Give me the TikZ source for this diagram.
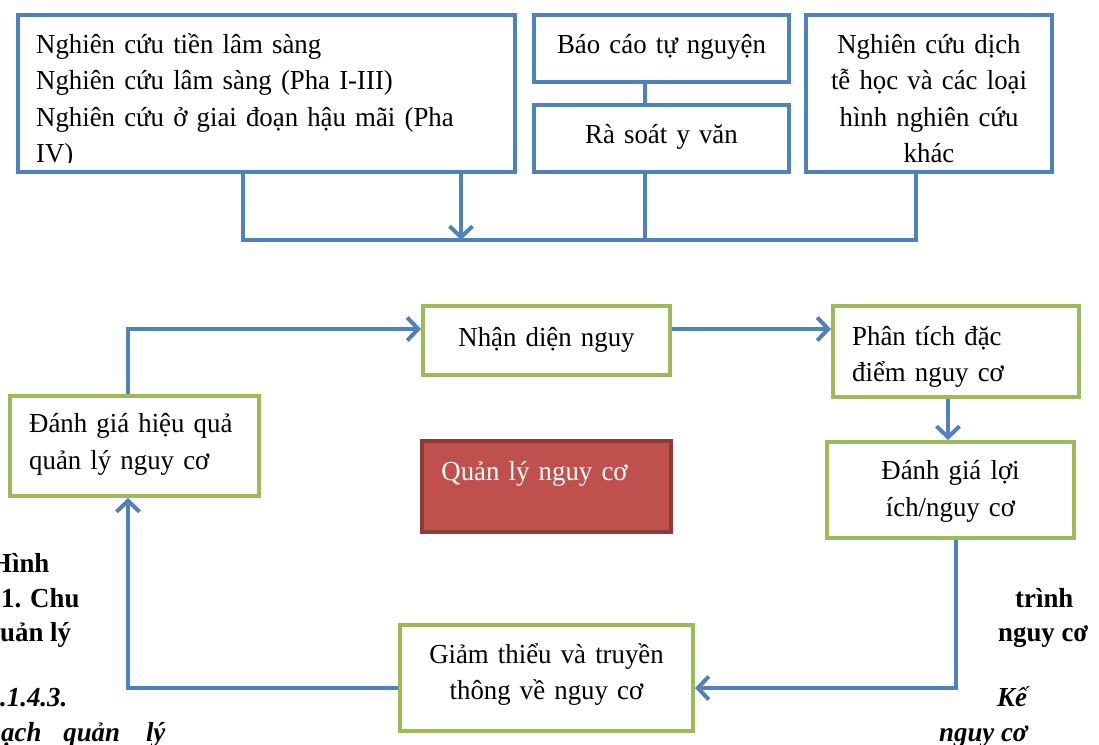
\documentclass[tikz,border=0pt]{standalone}
\usepackage{fontspec}
\setmainfont{Liberation Serif}[FakeStretch=0.975]
\usetikzlibrary{arrows.meta,calc}
\definecolor{myblue}{HTML}{4F81BD}
\definecolor{mygreen}{HTML}{9BBB59}
\definecolor{myred}{HTML}{C0504D}
\definecolor{mydarkred}{HTML}{8E3B38}
\tikzset{
  bluebox/.style={draw=myblue, line width=4pt, fill=white, inner sep=0pt},
  greenbox/.style={draw=mygreen, line width=4pt, fill=white, inner sep=0pt},
  redbox/.style={draw=mydarkred, line width=3.5pt, fill=myred, inner sep=0pt},
  txt/.style={inner sep=0pt, font=\fontsize{27.5}{36.5}\selectfont, text width=300pt},
  ctxt/.style={txt, align=center, anchor=base},
  ltxt/.style={txt, align=left, anchor=base west},
  conn/.style={draw=myblue, line width=4pt},
  arr/.style={-{Straight Barb[length=11pt,width=23pt]}},
  outb/.style={inner sep=0pt, anchor=base west, font=\fontsize{27.5}{36.5}\selectfont\bfseries},
  outi/.style={inner sep=0pt, anchor=base west, font=\fontsize{27.5}{36.5}\selectfont\bfseries\itshape},
}
\begin{document}
\begin{tikzpicture}[x=1pt,y=-1pt]
\useasboundingbox[fill=white] (0,0) rectangle (1099,744);

% top row
\node[bluebox, minimum width=497pt, minimum height=157pt] (A) at (266.5,93.5) {};
\node[bluebox, minimum width=255pt, minimum height=67pt] (B) at (661.5,48.5) {};
\node[bluebox, minimum width=255pt, minimum height=67pt] (C) at (661.5,138.5) {};
\node[bluebox, minimum width=246pt, minimum height=157pt] (D) at (929,93.5) {};

\begin{scope}
\clip ($(A.north west)+(2,2)$) rectangle ($(A.south east)+(-2,-12)$);
\node[ltxt, text width=480pt] (At) at ($(A.north west)+(20,40)$) {Nghiên cứu tiền lâm sàng\\Nghiên cứu lâm sàng (Pha I-III)\\Nghiên cứu ở giai đoạn hậu mãi (Pha\\IV)};
\end{scope}
\node[ctxt] (Bt) at ($(B.north)+(0,40)$) {Báo cáo tự nguyện};
\node[ctxt] (Ct) at ($(C.north)+(0,40)$) {Rà soát y văn};
\node[ctxt] (Dt) at ($(D.north)+(0,40)$) {Nghiên cứu dịch\\tễ học và các loại\\hình nghiên cứu\\khác};

\draw[conn] ($(B.south west)+(113,0)$) -- ($(C.north west)+(113,0)$);
\draw[conn] ($(A.south west)+(227,0)$) -- ++(0,66) -| ($(D.south west)+(112,0)$);
\draw[conn] ($(C.south west)+(113,0)$) -- ++(0,66);
\draw[conn,arr] ($(A.south west)+(445,0)$) -- ++(0,66);

% lower cycle
\node[greenbox, minimum width=247pt, minimum height=69pt] (N) at (546.5,340.5) {};
\node[greenbox, minimum width=246pt, minimum height=91pt] (P) at (956,351.5) {};
\node[greenbox, minimum width=247pt, minimum height=96pt] (L) at (950.5,490) {};
\node[greenbox, minimum width=249pt, minimum height=100pt] (H) at (134.5,446) {};
\node[redbox, minimum width=249pt, minimum height=91pt] (Q) at (546.5,486.5) {};
\node[greenbox, minimum width=293pt, minimum height=106pt] (G) at (546.5,678) {};

\node[ctxt] (Nt) at ($(N.north)+(0,42)$) {Nhận diện nguy};
\node[ltxt] (Pt) at ($(P.north west)+(21,41)$) {Phân tích đặc\\điểm nguy cơ};
\node[ctxt] (Lt) at ($(L.north)+(0,39.5)$) {Đánh giá lợi\\ích/nguy cơ};
\node[ltxt] (Ht) at ($(H.north west)+(21,38.5)$) {Đánh giá hiệu quả\\quản lý nguy cơ};
\node[ltxt, text=white] (Qt) at ($(Q.north west)+(21,41)$) {Quản lý nguy cơ};
\node[ctxt] (Gt) at ($(G.north)+(0,40)$) {Giảm thiểu và truyền\\thông về nguy cơ};

\draw[conn,arr] ($(H.north west)+(120,0)$) |- ($(N.west)+(0,-11.5)$);
\draw[conn,arr] ($(N.east)+(0,-11.5)$) -- ($(P.west)+(0,-22.5)$);
\draw[conn,arr] ($(P.south west)+(117,0)$) -- ($(L.north west)+(123,0)$);
\draw[conn,arr] ($(L.south west)+(131,0)$) |- ($(G.east)+(0,10)$);
\draw[conn,arr] ($(G.west)+(0,10)$) -| ($(H.south west)+(120,0)$);

% surrounding document text
\node[outb] (o1) at (-9,572) {Hình};
\node[outb] (o2) at (1,607) {1. Chu};
\node[outb] (o3) at (0,641) {uản lý};
\node[outi] (o4) at (0,706) {.1.4.3.};
\node[outi] (o5) at (1,741) {ạch\hspace{22pt}quản\hspace{26pt}lý};
\node[outb] (o6) at (1015,607) {trình};
\node[outb] (o7) at (998,641) {nguy cơ};
\node[outi] (o8) at (997,706) {Kế};
\node[outi] (o9) at (939,741) {nguy cơ};
\end{tikzpicture}
\end{document}
